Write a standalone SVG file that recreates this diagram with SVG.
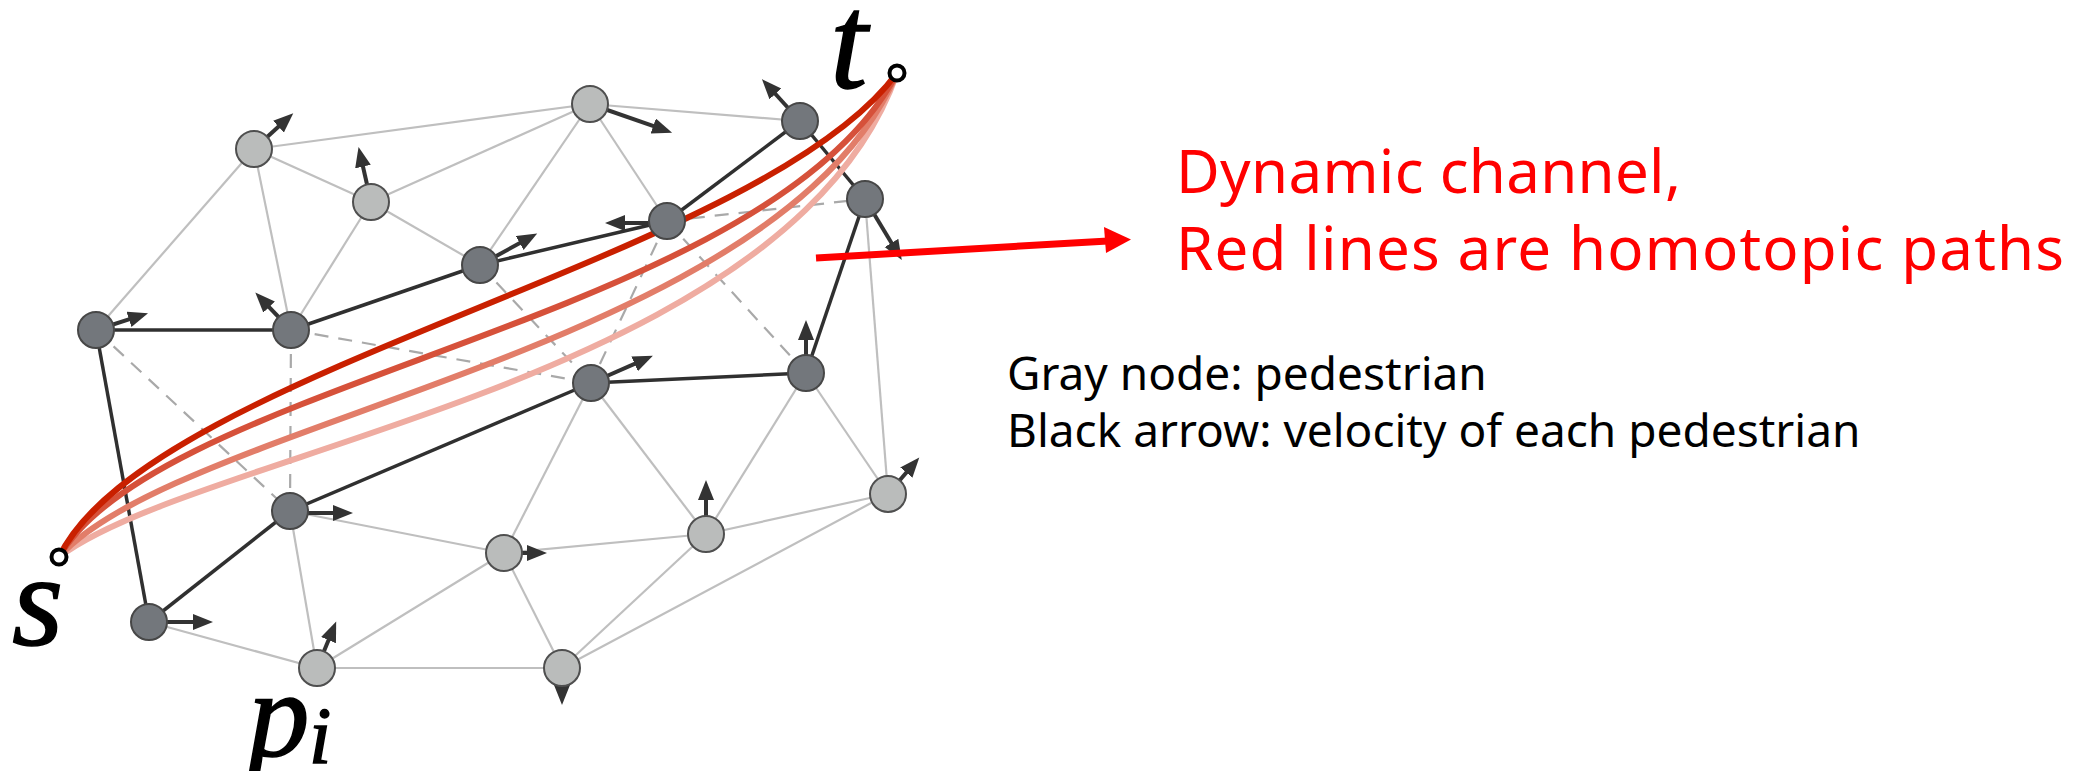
<svg xmlns="http://www.w3.org/2000/svg" width="2098" height="771" viewBox="0 0 2098 771">
<defs>
<style>
.lt{stroke:#bfbfbf;stroke-width:2.2;fill:none}
.dk{stroke:#303030;stroke-width:3.5;fill:none}
.ds{stroke:#a9a9a9;stroke-width:2.2;stroke-dasharray:14 10;fill:none}
.vel{stroke:#333;stroke-width:4;fill:none;marker-end:url(#ah)}
.nd{fill:#73777c;stroke:#474747;stroke-width:2}
.nl{fill:#babcbb;stroke:#4f4f4f;stroke-width:2}
.rc{fill:none;stroke-width:6;stroke-linecap:round}
.red{font-family:"Noto Sans","Open Sans",sans-serif;font-size:60px;fill:#ff0000}
.blk{font-family:"Noto Sans","Open Sans",sans-serif;font-size:46px;fill:#000}
.math{font-family:"Liberation Serif","DejaVu Serif",serif;font-style:italic;fill:#000;stroke:#000;stroke-width:1.5}
</style>
<marker id="ah" markerUnits="userSpaceOnUse" markerWidth="22" markerHeight="18" refX="8" refY="8" orient="auto">
<path d="M0,0 L20,8 L0,16 z" fill="#333"/>
</marker>
</defs>
<rect width="2098" height="771" fill="#fff"/>
<g id="connectors">
<g id="light-edges">
<line class="lt" x1="96" y1="330" x2="254" y2="149"/>
<line class="lt" x1="254" y1="149" x2="291" y2="330"/>
<line class="lt" x1="254" y1="149" x2="371" y2="202"/>
<line class="lt" x1="254" y1="149" x2="590" y2="104"/>
<line class="lt" x1="371" y1="202" x2="590" y2="104"/>
<line class="lt" x1="371" y1="202" x2="291" y2="330"/>
<line class="lt" x1="371" y1="202" x2="480" y2="265"/>
<line class="lt" x1="590" y1="104" x2="480" y2="265"/>
<line class="lt" x1="590" y1="104" x2="667" y2="221"/>
<line class="lt" x1="590" y1="104" x2="800" y2="121"/>
<line class="lt" x1="865" y1="199" x2="888" y2="494"/>
<line class="lt" x1="591" y1="383" x2="504" y2="553"/>
<line class="lt" x1="591" y1="383" x2="706" y2="534"/>
<line class="lt" x1="806" y1="373" x2="706" y2="534"/>
<line class="lt" x1="806" y1="373" x2="888" y2="494"/>
<line class="lt" x1="504" y1="553" x2="706" y2="534"/>
<line class="lt" x1="706" y1="534" x2="888" y2="494"/>
<line class="lt" x1="504" y1="553" x2="562" y2="668"/>
<line class="lt" x1="706" y1="534" x2="562" y2="668"/>
<line class="lt" x1="888" y1="494" x2="562" y2="668"/>
<line class="lt" x1="317" y1="668" x2="504" y2="553"/>
<line class="lt" x1="317" y1="668" x2="562" y2="668"/>
<line class="lt" x1="290" y1="511" x2="317" y2="668"/>
<line class="lt" x1="149" y1="622" x2="317" y2="668"/>
<line class="lt" x1="290" y1="511" x2="504" y2="553"/>
</g>
<g id="dashed-edges">
<line class="ds" x1="96" y1="330" x2="290" y2="511"/>
<line class="ds" x1="291" y1="330" x2="290" y2="511"/>
<line class="ds" x1="291" y1="330" x2="591" y2="383"/>
<line class="ds" x1="480" y1="265" x2="591" y2="383"/>
<line class="ds" x1="667" y1="221" x2="591" y2="383"/>
<line class="ds" x1="667" y1="221" x2="806" y2="373"/>
<line class="ds" x1="667" y1="221" x2="865" y2="199"/>
</g>
<g id="channel-edges">
<line class="dk" x1="96" y1="330" x2="291" y2="330"/>
<line class="dk" x1="291" y1="330" x2="480" y2="265"/>
<line class="dk" x1="480" y1="265" x2="667" y2="221"/>
<line class="dk" x1="667" y1="221" x2="800" y2="121"/>
<line class="dk" x1="800" y1="121" x2="865" y2="199"/>
<line class="dk" x1="865" y1="199" x2="806" y2="373"/>
<line class="dk" x1="806" y1="373" x2="591" y2="383"/>
<line class="dk" x1="591" y1="383" x2="290" y2="511"/>
<line class="dk" x1="290" y1="511" x2="149" y2="622"/>
<line class="dk" x1="149" y1="622" x2="96" y2="330"/>
</g>
</g>
<g id="homotopic-paths">
<path class="rc" stroke="#efaca1" d="M59,557 C200,450 790,380 897,73"/>
<path class="rc" stroke="#e27d69" d="M59,557 C180,420 780,350 897,73"/>
<path class="rc" stroke="#d6513a" d="M59,557 C160,380 770,320 897,73"/>
<path class="rc" stroke="#c92000" d="M59,557 C150,370 760,260 897,73"/>
</g>
<g id="node-A"><line class="vel" x1="96" y1="330" x2="136.6" y2="316.9"/><circle class="nd" cx="96" cy="330" r="18"/></g>
<g id="node-B"><line class="vel" x1="254" y1="149" x2="284.4" y2="121.3"/><circle class="nl" cx="254" cy="149" r="18"/></g>
<g id="node-C"><line class="vel" x1="371" y1="202" x2="361.2" y2="158.8"/><circle class="nl" cx="371" cy="202" r="18"/></g>
<g id="node-D"><line class="vel" x1="590" y1="104" x2="660.8" y2="128.7"/><circle class="nl" cx="590" cy="104" r="18"/></g>
<g id="node-E"><line class="vel" x1="800" y1="121" x2="770" y2="88"/><circle class="nd" cx="800" cy="121" r="18"/></g>
<g id="node-F"><line class="vel" x1="865" y1="199" x2="895.6" y2="249.8"/><circle class="nd" cx="865" cy="199" r="18"/></g>
<g id="node-G"><line class="vel" x1="667" y1="223" x2="617" y2="223"/><circle class="nd" cx="667" cy="221" r="18"/></g>
<g id="node-H"><line class="vel" x1="480" y1="265" x2="526.7" y2="239.2"/><circle class="nd" cx="480" cy="265" r="18"/></g>
<g id="node-I"><line class="vel" x1="291" y1="330" x2="263.6" y2="301.3"/><circle class="nd" cx="291" cy="330" r="18"/></g>
<g id="node-J"><line class="vel" x1="591" y1="383" x2="641.9" y2="360.6"/><circle class="nd" cx="591" cy="383" r="18"/></g>
<g id="node-K"><line class="vel" x1="806" y1="373" x2="806" y2="332"/><circle class="nd" cx="806" cy="373" r="18"/></g>
<g id="node-L"><line class="vel" x1="290" y1="513" x2="341" y2="513"/><circle class="nd" cx="290" cy="511" r="18"/></g>
<g id="node-M"><line class="vel" x1="149" y1="622" x2="201" y2="622"/><circle class="nd" cx="149" cy="622" r="18"/></g>
<g id="node-N"><line class="vel" x1="317" y1="668" x2="331.6" y2="632.7"/><circle class="nl" cx="317" cy="668" r="18"/></g>
<g id="node-O"><line class="vel" x1="504" y1="553" x2="535" y2="553"/><circle class="nl" cx="504" cy="553" r="18"/></g>
<g id="node-P"><line class="vel" x1="562" y1="668" x2="562" y2="693"/><circle class="nl" cx="562" cy="668" r="18"/></g>
<g id="node-Q"><line class="vel" x1="706" y1="534" x2="706" y2="492"/><circle class="nl" cx="706" cy="534" r="18"/></g>
<g id="node-R"><line class="vel" x1="888" y1="494" x2="911.5" y2="466.5"/><circle class="nl" cx="888" cy="494" r="18"/></g>
<g id="node-s"><circle cx="59" cy="557" r="7.5" fill="#fff" stroke="#000" stroke-width="4"/><text class="math" x="12" y="645" font-size="132">s</text></g>
<g id="node-t"><circle cx="897" cy="73" r="7.5" fill="#fff" stroke="#000" stroke-width="4"/><text class="math" x="830" y="88" font-size="135">t</text></g>
<g id="label-pi"><text class="math" x="248" y="756" font-size="123">p<tspan x="309" y="763" font-size="80">i</tspan></text></g>
<g id="annotation">
<line x1="816" y1="258" x2="1108" y2="241" stroke="#ff0000" stroke-width="7"/>
<polygon points="1131,239.5 1104,227 1106,253" fill="#ff0000"/>
<text class="red" x="1176" y="193" textLength="505">Dynamic channel,</text>
<text class="red" x="1176" y="270" textLength="888">Red lines are homotopic paths</text>
<text class="blk" x="1007" y="390">Gray node: pedestrian</text>
<text class="blk" x="1007" y="447">Black arrow: velocity of each pedestrian</text>
</g>
</svg>
